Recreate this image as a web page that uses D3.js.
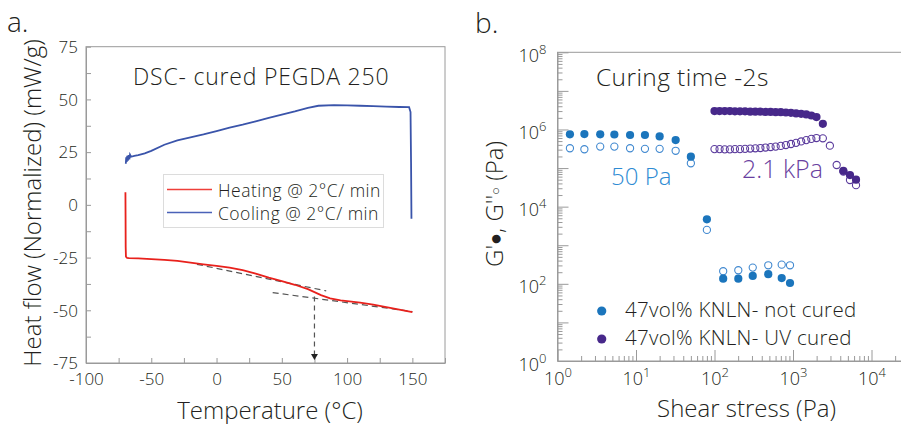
<!DOCTYPE html>
<html>
<head>
<meta charset="utf-8">
<script src="https://cdn.jsdelivr.net/npm/d3@7"></script>
<style>
body { margin:0; background:#fff; }
svg text { font-family:"Open Sans", "Liberation Sans", Arial, sans-serif; font-weight:300; fill:#231f20; }
</style>
</head>
<body>
<svg id="fig" width="901" height="424"></svg>
<script>
// ---- panel a: DSC ----
var heatTemp = [-69.8, -69.7, -69.6, -69.4, -68.5, -67, -60, -50, -40, -30, -20, -10, 0, 10, 20, 30, 40, 50, 60, 70, 80, 87, 95, 100, 110, 120, 130, 140, 150];
var heatFlow = [6.0, -5, -20, -24.6, -25.2, -25.3, -25.4, -25.7, -26.1, -26.6, -27.4, -28.2, -28.9, -29.8, -31.0, -32.6, -34.5, -36.2, -37.9, -40.0, -42.8, -44.3, -45.3, -45.7, -46.4, -47.3, -48.5, -49.7, -50.9];

var coolTemp = [-69.5, -69.2, -68.8, -68.4, -67.9, -67.4, -66.8, -66.3, -65.5, -63, -60, -55, -50, -40, -30, -20, -10, 0, 10, 20, 30, 40, 50, 60, 70, 78, 90, 100, 110, 120, 130, 140, 147.5, 148.6, 149.0, 149.3];
var coolFlow = [19.5, 22.6, 20.4, 23.3, 21.0, 23.6, 21.6, 23.8, 22.8, 23.2, 23.6, 24.4, 25.6, 28.5, 30.6, 32.0, 33.4, 35.0, 36.6, 38.0, 39.6, 41.2, 42.8, 44.3, 46.0, 47.0, 47.3, 47.2, 47.0, 46.8, 46.6, 46.4, 46.3, 44, 20, -6.6];

// tangent construction for Tg
var preTangentTemp = [-15, 84];
var preTangentFlow = [-28.2, -40.8];
var postTangentTemp = [43, 150];
var postTangentFlow = [-41.6, -50.6];
var tgTemp = 75;
var tgFlowTop = -43.5;

var tempTicks = [-100, -50, 0, 50, 100, 150];
var flowTicks = [-75, -50, -25, 0, 25, 50, 75];
var dscLegend = ["Heating @ 2\u00b0C/ min", "Cooling @ 2\u00b0C/ min"];

// ---- panel b: rheology ----
var stressNotCured = [1.44, 2.2, 3.5, 5.3, 8.4, 13, 20, 32, 50, 80, 129, 201, 307, 484, 718, 916];
var gPrimeNotCured = [7.5e5, 7.6e5, 7.5e5, 7.4e5, 7.2e5, 7.2e5, 6.6e5, 5.3e5, 1.97e5, 4.7e3, 136, 136, 160, 178, 141, 105];
var gDoublePrimeNotCured = [3.26e5, 3.07e5, 3.6e5, 3.6e5, 3.26e5, 3.15e5, 3.15e5, 2.8e5, 1.33e5, 2.5e3, 212, 225, 263, 302, 314, 302];

var stressCured = [100, 116, 135, 157, 182, 211, 245, 285, 331, 384, 446, 518, 601, 698, 811, 942, 1094, 1270, 1475, 1713, 1990, 2400, 2950, 3600, 4380, 5320, 6350];
var gPrimeCured = [3.0e6, 3.0e6, 3.0e6, 3.0e6, 2.95e6, 2.95e6, 2.95e6, 2.9e6, 2.9e6, 2.9e6, 2.85e6, 2.85e6, 2.8e6, 2.8e6, 2.75e6, 2.7e6, 2.6e6, 2.55e6, 2.45e6, 2.3e6, 2.1e6, 1.4e6, null, null, 8.5e4, 6.6e4, 5.0e4];
var gDoublePrimeCured = [3.1e5, 3.1e5, 3.05e5, 3.05e5, 3.1e5, 3.1e5, 3.15e5, 3.2e5, 3.25e5, 3.3e5, 3.4e5, 3.5e5, 3.6e5, 3.75e5, 3.95e5, 4.2e5, 4.5e5, 4.9e5, 5.3e5, 5.7e5, 6.0e5, 5.9e5, 3.8e5, 1.2e5, 8.1e4, 4.9e4, 3.6e4];

var stressDecades = [1, 10, 100, 1000, 10000];
var modulusDecades = [1, 1e1, 1e2, 1e3, 1e4, 1e5, 1e6, 1e7, 1e8];
var modulusLabels = [1, 1e2, 1e4, 1e6, 1e8];
var rheoLegend = ["47vol% KNLN- not cured", "47vol% KNLN- UV cured"];
var yieldLabels = ["50 Pa", "2.1 kPa"];

var axisGrey = "#9a9a9a";
var blue = "#1b75bc", blueOpen = "#4189d0", blueText = "#2e8bd3";
var purple = "#47288a", purpleOpen = "#5a3a9c", purpleText = "#6a3fa0";

var svg = d3.select("#fig");

var zip = function(a, b)
{
    return a.map(function(v, i) { return [v, b[i]]; });
};

var drawDsc = function()
{
    var x = d3.scaleLinear().domain([-100, 175]).range([86, 445]);
    var y = d3.scaleLinear().domain([-75, 75]).range([363, 46.7]);
    var g = svg.append("g").attr("id", "dsc");

    //axes with inward ticks
    var minorT = d3.range(-100, 176, 25);
    var minorF = d3.range(-75, 76, 12.5);

    var xAxis = g.append("g")
        .attr("transform", "translate(0," + y(-75) + ")")
        .attr("color", axisGrey)
        .call(d3.axisBottom(x).tickValues(minorT).tickSize(-5).tickSizeOuter(0)
            .tickFormat(function(d) { return tempTicks.indexOf(d) >= 0 ? String(d) : ""; }));
    xAxis.selectAll("text").attr("font-size", 17).attr("y", 22).attr("dy", 0);

    var yAxis = g.append("g")
        .attr("transform", "translate(" + x(-100) + ",0)")
        .attr("color", axisGrey)
        .call(d3.axisLeft(y).tickValues(minorF).tickSize(-5).tickSizeOuter(0)
            .tickFormat(function(d) { return flowTicks.indexOf(d) >= 0 ? String(d) : ""; }));
    yAxis.selectAll("text").attr("font-size", 17).attr("x", -8).attr("dy", "0.34em");

    g.append("rect")
        .attr("x", x(-100)).attr("y", y(75))
        .attr("width", x(175) - x(-100)).attr("height", y(-75) - y(75))
        .attr("fill", "none").attr("stroke", axisGrey);

    var line = d3.line().x(function(d) { return x(d[0]); }).y(function(d) { return y(d[1]); });

    g.append("path").datum(zip(coolTemp, coolFlow))
        .attr("d", line).attr("fill", "none")
        .attr("stroke", "#3a54aa").attr("stroke-width", 1.8);

    //dashed tangents under the heating curve
    var dash = g.append("g").attr("fill", "none").attr("stroke", "#555")
        .attr("stroke-width", 1.2).attr("stroke-dasharray", "6,4");
    dash.append("path").datum(zip(preTangentTemp, preTangentFlow)).attr("d", line);
    dash.append("path").datum(zip(postTangentTemp, postTangentFlow)).attr("d", line);

    g.append("path").datum(zip(heatTemp, heatFlow))
        .attr("d", line).attr("fill", "none")
        .attr("stroke", "#e8211c").attr("stroke-width", 1.8);

    dash.append("path").datum([[tgTemp, tgFlowTop], [tgTemp, -73]]).attr("d", line)
        .attr("stroke-dasharray", "5,4");
    var ax = x(tgTemp), ay = y(-75) - 3;
    g.append("path")
        .attr("d", "M" + (ax - 3.5) + "," + (ay - 6) + "L" + (ax + 3.5) + "," + (ay - 6) + "L" + ax + "," + ay + "Z")
        .attr("fill", "#222");

    //legend
    var leg = g.append("g");
    leg.append("rect").attr("x", 163.5).attr("y", 174.5).attr("width", 220).attr("height", 53)
        .attr("fill", "#fff").attr("stroke", "#dcdcdc");
    var legColors = ["#ee3f3a", "#4a62b8"];
    var legY = [189.5, 212.5];
    legColors.forEach(function(c, i)
    {
        leg.append("line").attr("x1", 167).attr("x2", 212).attr("y1", legY[i]).attr("y2", legY[i])
            .style("stroke", c).attr("stroke-width", 1.3);
        leg.append("text").attr("x", 218).attr("y", legY[i] + 7).attr("font-size", 17.5)
            .attr("letter-spacing", 0.5).text(dscLegend[i]);
    });

    g.append("text").attr("x", 133).attr("y", 85).attr("font-size", 23)
        .attr("letter-spacing", 0.8).text("DSC- cured PEGDA 250");

    g.append("text").attr("x", 270).attr("y", 418.5).attr("text-anchor", "middle")
        .attr("font-size", 24).text("Temperature (\u00b0C)");
    g.append("text").attr("transform", "translate(41,203) rotate(-90)")
        .attr("text-anchor", "middle").attr("font-size", 24).text("Heat flow (Normalized) (mW/g)");

    g.append("text").attr("x", 7).attr("y", 32).attr("font-size", 28).text("a.");
};

var drawRheo = function()
{
    var x = d3.scaleLog().domain([1, 1e5]).range([557.5, 950]);
    var y = d3.scaleLog().domain([1, 1e8]).range([361, 52.3]);
    var g = svg.append("g").attr("id", "rheo");

    var minorX = [];
    stressDecades.forEach(function(d) { for (var k = 1; k < 10; k++) minorX.push(d * k); });
    minorX.push(1e5);
    var minorY = [];
    modulusDecades.forEach(function(d) { if (d < 1e8) for (var k = 1; k < 10; k++) minorY.push(d * k); });
    minorY.push(1e8);

    var isDecade = function(d) { return Math.abs(Math.log10(d) - Math.round(Math.log10(d))) < 1e-9; };
    var sup = function(sel, show)
    {
        sel.each(function(d)
        {
            var t = d3.select(this);
            t.text(null);
            if (!show(d)) return;
            t.append("tspan").text("10");
            t.append("tspan").attr("font-size", 13).attr("dy", -8).text(Math.round(Math.log10(d)));
        });
    };

    g.append("rect")
        .attr("x", x(1)).attr("y", y(1e8))
        .attr("width", x(1e5) - x(1)).attr("height", y(1) - y(1e8))
        .attr("fill", "none").attr("stroke", axisGrey);

    var xAxis = g.append("g")
        .attr("transform", "translate(0," + y(1) + ")")
        .attr("color", axisGrey)
        .call(d3.axisBottom(x).tickValues(minorX).tickSize(-5).tickSizeOuter(0));
    xAxis.selectAll(".tick line").filter(isDecade).attr("y2", -11);
    xAxis.selectAll("text").attr("font-size", 18).attr("y", 24).attr("dy", 0)
        .call(sup, function(d) { return isDecade(d) && stressDecades.indexOf(Math.round(d)) >= 0; });

    var yAxis = g.append("g")
        .attr("transform", "translate(" + x(1) + ",0)")
        .attr("color", axisGrey)
        .call(d3.axisLeft(y).tickValues(minorY).tickSize(-5).tickSizeOuter(0));
    yAxis.selectAll(".tick line").filter(isDecade).attr("x2", 11);
    yAxis.selectAll("text").attr("font-size", 18).attr("x", -11).attr("dy", "0.5em")
        .call(sup, function(d) { return isDecade(d) && modulusLabels.indexOf(Math.round(d)) >= 0; });

    var series = [
        {s: stressNotCured, g1: gPrimeNotCured, g2: gDoublePrimeNotCured, fill: blue, open: blueOpen},
        {s: stressCured, g1: gPrimeCured, g2: gDoublePrimeCured, fill: purple, open: purpleOpen}
    ];

    series.forEach(function(sr, i)
    {
        var pts = sr.s.map(function(v, j) { return {s: v, g1: sr.g1[j], g2: sr.g2[j]}; });
        g.append("g").attr("id", "open" + i)
            .selectAll("circle")
            .data(pts.filter(function(p) { return p.g2 != null; }))
            .enter().append("circle")
            .attr("cx", function(p) { return x(p.s); })
            .attr("cy", function(p) { return y(p.g2); })
            .attr("r", 3.6)
            .attr("fill", "none")
            .attr("stroke", sr.open)
            .attr("stroke-width", 1.1);
        g.append("g").attr("id", "filled" + i)
            .selectAll("circle")
            .data(pts.filter(function(p) { return p.g1 != null; }))
            .enter().append("circle")
            .attr("cx", function(p) { return x(p.s); })
            .attr("cy", function(p) { return y(p.g1); })
            .attr("r", 4.1)
            .attr("fill", sr.fill);
    });

    g.append("text").attr("x", 611).attr("y", 184.5).attr("font-size", 24)
        .style("fill", blueText).text(yieldLabels[0]);
    g.append("text").attr("x", 742).attr("y", 177.5).attr("font-size", 25)
        .style("fill", purpleText).text(yieldLabels[1]);

    g.append("text").attr("x", 596).attr("y", 86).attr("font-size", 24.5)
        .attr("letter-spacing", 0.4).text("Curing time -2s");

    [[blue, 311], [purple, 339]].forEach(function(s, i)
    {
        g.append("circle").attr("cx", 601.7).attr("cy", s[1]).attr("r", 4.6).attr("fill", s[0]);
        g.append("text").attr("x", 625).attr("y", s[1] + 5.5).attr("font-size", 20.5)
            .attr("letter-spacing", 0.3).text(rheoLegend[i]);
    });

    g.append("text").attr("x", 746.5).attr("y", 417).attr("text-anchor", "middle")
        .attr("font-size", 24).text("Shear stress (Pa)");

    var yl = g.append("text").attr("transform", "translate(503,204) rotate(-90)")
        .attr("text-anchor", "middle").attr("font-size", 24);
    yl.append("tspan").text("G'");
    yl.append("tspan").attr("font-size", 20).attr("dy", -1).text("\u25cf");
    yl.append("tspan").attr("dy", 1).text(", G''");
    yl.append("tspan").attr("font-size", 13).attr("dy", -3).text("\u25cb");
    yl.append("tspan").attr("dy", 3).text(" (Pa)");

    g.append("text").attr("x", 475).attr("y", 33).attr("font-size", 28).text("b.");
};

drawDsc();
drawRheo();
</script>
</body>
</html>
